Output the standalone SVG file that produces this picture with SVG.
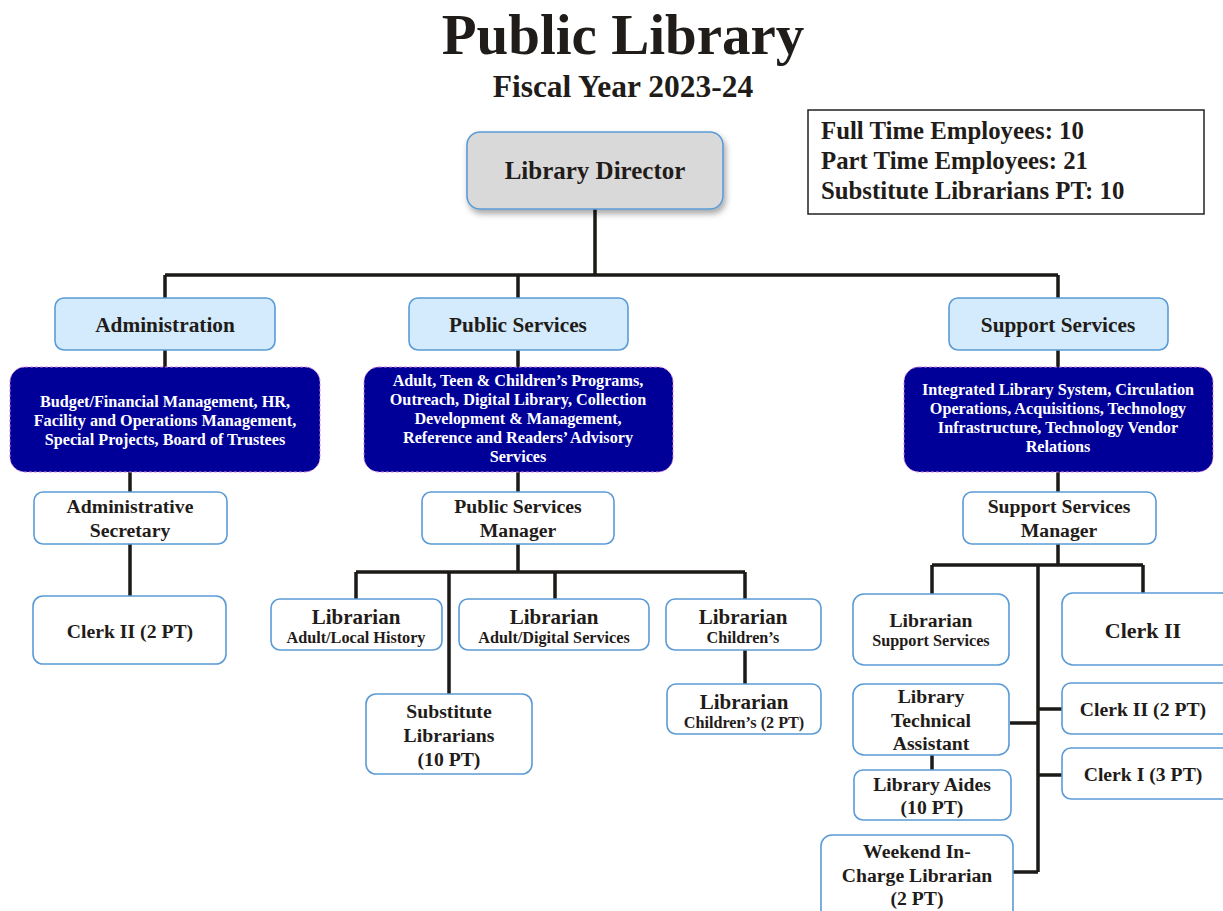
<svg xmlns="http://www.w3.org/2000/svg" width="1223" height="911" viewBox="0 0 1223 911">
<defs>
<style>
text{font-family:"Liberation Serif","Times New Roman",serif;font-weight:bold;fill:#1f1c19;text-anchor:middle}
.box{fill:#fff;stroke:#5b9bd5;stroke-width:1.6}
.lvl2{fill:#d3ebfc;stroke:#5b9bd5;stroke-width:1.6}
.dark{fill:#000099;stroke:#d87fd8;stroke-width:1;stroke-dasharray:3 2}
.dk{fill:#fff;font-size:16.2px}
.conn{stroke:#1c1a17;stroke-width:3.5;fill:none}
.t17{font-size:19.7px}
.t19{font-size:21px}
.s14{font-size:16.2px}
.l2{font-size:21.3px}
.cnt{font-size:24.8px;text-anchor:start}
</style>
<filter id="sh" x="-10%" y="-10%" width="130%" height="140%">
<feDropShadow dx="2" dy="4" stdDeviation="3" flood-color="#000" flood-opacity="0.35"/>
</filter>
</defs>
<rect width="1223" height="911" fill="#fff"/>
<text x="623" y="54" style="font-size:57px">Public Library</text>
<text x="623" y="97" style="font-size:31.5px">Fiscal Year 2023-24</text>
<g id="counts">
<rect x="808" y="110" width="396" height="104" fill="#fff" stroke="#222" stroke-width="1.5"/>
<text class="cnt" x="821" y="139">Full Time Employees: 10</text>
<text class="cnt" x="821" y="169">Part Time Employees: 21</text>
<text class="cnt" x="821" y="199">Substitute Librarians PT: 10</text>
</g>
<g id="connectors">
<path class="conn" d="M595 209V275M165 275H1058M165 275V298M518 275V298M1058 275V298"/>
<path class="conn" d="M165 350V367M518 350V367M1058 350V367"/>
<path class="conn" d="M130 455V492M130 544V596"/>
<path class="conn" d="M518 472V492M518 544V572M356 572H745M356 572V599M449 572V694M555 572V599M745 572V599M745 650V684"/>
<path class="conn" d="M1058 472V492M1058 544V565M932 565H1143M932 565V594M1143 565V593M1038 565V872M1010 723H1038M1038 709H1062M1038 775H1062M1013 872H1038M932 755V770"/>
</g>
<g id="director">
<rect x="467" y="132" width="256" height="77" rx="13" fill="#d9d9d9" stroke="#5b9bd5" stroke-width="1.6" filter="url(#sh)"/>
<text x="595" y="179" style="font-size:25px">Library Director</text>
</g>
<g id="administration">
<rect class="lvl2" x="55" y="298" width="220" height="52" rx="9"/>
<text class="l2" x="165" y="332">Administration</text>
</g>
<g id="public-services">
<rect class="lvl2" x="409" y="298" width="219" height="52" rx="9"/>
<text class="l2" x="518" y="332">Public Services</text>
</g>
<g id="support-services">
<rect class="lvl2" x="949" y="298" width="219" height="52" rx="9"/>
<text class="l2" x="1058" y="332">Support Services</text>
</g>
<g id="admin-duties">
<rect class="dark" x="10" y="367" width="310" height="105" rx="15"/>
<text class="dk" x="165" y="407">Budget/Financial Management, HR,</text>
<text class="dk" x="165" y="426">Facility and Operations Management,</text>
<text class="dk" x="165" y="445">Special Projects, Board of Trustees</text>
</g>
<g id="public-duties">
<rect class="dark" x="364" y="367" width="309" height="105" rx="15"/>
<text class="dk" x="518" y="386">Adult, Teen &amp; Children’s Programs,</text>
<text class="dk" x="518" y="405">Outreach, Digital Library, Collection</text>
<text class="dk" x="518" y="424">Development &amp; Management,</text>
<text class="dk" x="518" y="443">Reference and Readers’ Advisory</text>
<text class="dk" x="518" y="462">Services</text>
</g>
<g id="support-duties">
<rect class="dark" x="904" y="367" width="309" height="105" rx="15"/>
<text class="dk" x="1058" y="395">Integrated Library System, Circulation</text>
<text class="dk" x="1058" y="414">Operations, Acquisitions, Technology</text>
<text class="dk" x="1058" y="433">Infrastructure, Technology Vendor</text>
<text class="dk" x="1058" y="452">Relations</text>
</g>
<g id="admin-secretary">
<rect class="box" x="34" y="492" width="193" height="52" rx="9"/>
<text class="t17" x="130" y="513">Administrative</text>
<text class="t17" x="130" y="537">Secretary</text>
</g>
<g id="admin-clerk">
<rect class="box" x="33" y="596" width="193" height="68" rx="10"/>
<text class="t17" x="130" y="638">Clerk II (2 PT)</text>
</g>
<g id="ps-manager">
<rect class="box" x="422" y="492" width="192" height="52" rx="9"/>
<text class="t17" x="518" y="513">Public Services</text>
<text class="t17" x="518" y="537">Manager</text>
</g>
<g id="lib-local-history">
<rect class="box" x="271" y="599" width="171" height="51" rx="9"/>
<text class="t19" x="356" y="624">Librarian</text>
<text class="s14" x="356" y="643">Adult/Local History</text>
</g>
<g id="lib-digital">
<rect class="box" x="459" y="599" width="190" height="51" rx="9"/>
<text class="t19" x="554" y="624">Librarian</text>
<text class="s14" x="554" y="643">Adult/Digital Services</text>
</g>
<g id="lib-children">
<rect class="box" x="666" y="599" width="155" height="51" rx="9"/>
<text class="t19" x="743" y="624">Librarian</text>
<text class="s14" x="743" y="643">Children’s</text>
</g>
<g id="substitutes">
<rect class="box" x="366" y="694" width="166" height="80" rx="10"/>
<text class="t17" x="449" y="718">Substitute</text>
<text class="t17" x="449" y="742">Librarians</text>
<text class="t17" x="449" y="766">(10 PT)</text>
</g>
<g id="lib-children-pt">
<rect class="box" x="667" y="684" width="154" height="50" rx="9"/>
<text class="t19" x="744" y="709">Librarian</text>
<text class="s14" x="744" y="728">Children’s (2 PT)</text>
</g>
<g id="ss-manager">
<rect class="box" x="963" y="492" width="193" height="52" rx="9"/>
<text class="t17" x="1059" y="513">Support Services</text>
<text class="t17" x="1059" y="537">Manager</text>
</g>
<g id="lib-support">
<rect class="box" x="853" y="594" width="156" height="71" rx="11"/>
<text class="t17" x="931" y="627">Librarian</text>
<text class="s14" x="931" y="646">Support Services</text>
</g>
<g id="clerk2">
<rect class="box" x="1062" y="593" width="170" height="72" rx="11"/>
<text x="1143" y="638" style="font-size:22px">Clerk II</text>
</g>
<g id="tech-assistant">
<rect class="box" x="853" y="684" width="156" height="71" rx="11"/>
<text class="t17" x="931" y="703">Library</text>
<text class="t17" x="931" y="727">Technical</text>
<text class="t17" x="931" y="750">Assistant</text>
</g>
<g id="aides">
<rect class="box" x="854" y="770" width="157" height="50" rx="9"/>
<text class="t17" x="932" y="791">Library Aides</text>
<text class="t17" x="932" y="814">(10 PT)</text>
</g>
<g id="weekend">
<rect class="box" x="821" y="835" width="192" height="86" rx="11"/>
<text class="t17" x="917" y="858">Weekend In-</text>
<text class="t17" x="917" y="882">Charge Librarian</text>
<text class="t17" x="917" y="905">(2 PT)</text>
</g>
<g id="clerk2-pt">
<rect class="box" x="1062" y="683" width="170" height="51" rx="9"/>
<text class="t17" x="1143" y="716">Clerk II (2 PT)</text>
</g>
<g id="clerk1-pt">
<rect class="box" x="1062" y="748" width="170" height="51" rx="9"/>
<text class="t17" x="1143" y="781">Clerk I (3 PT)</text>
</g>
</svg>
